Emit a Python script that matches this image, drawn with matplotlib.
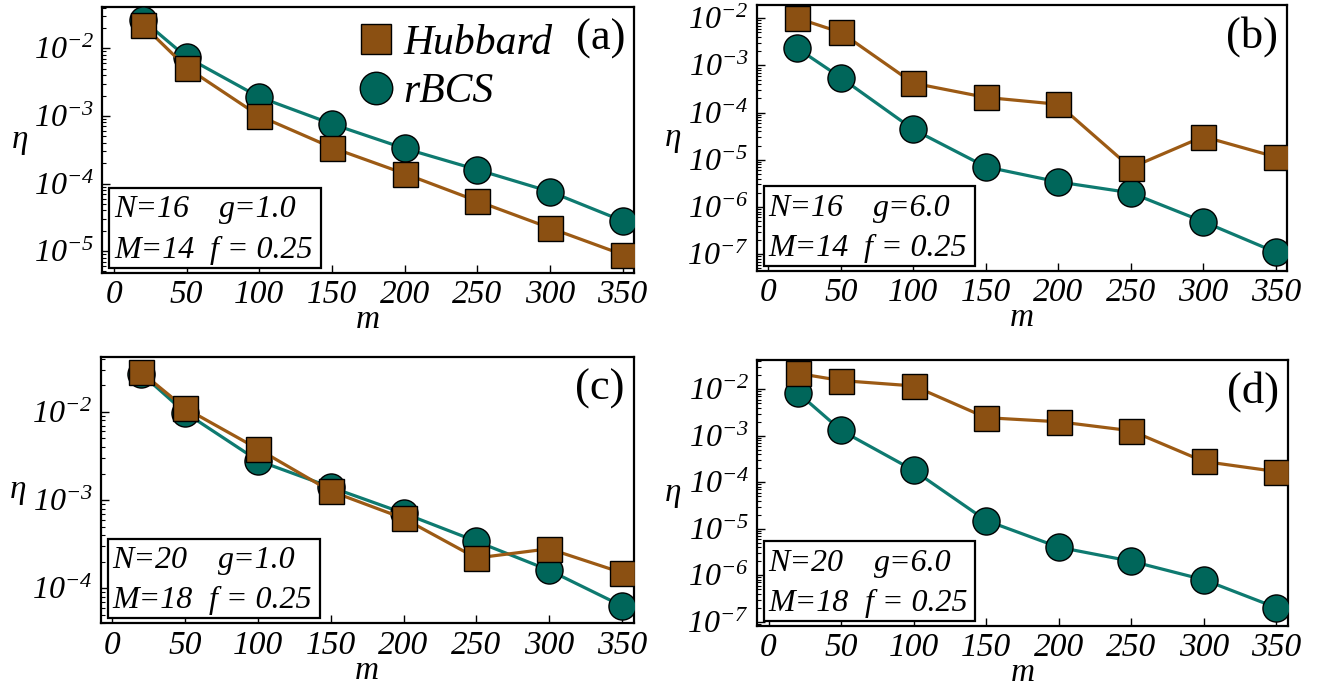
import numpy as np
import matplotlib
matplotlib.use('Agg')
import matplotlib.pyplot as plt
from matplotlib.patches import Rectangle
from matplotlib.ticker import LogLocator, FuncFormatter, NullFormatter

plt.rcParams['font.family'] = ['Liberation Serif', 'DejaVu Serif']
plt.rcParams['font.style'] = 'italic'
plt.rcParams['mathtext.fontset'] = 'custom'
plt.rcParams['mathtext.rm'] = 'Liberation Serif:italic'
plt.rcParams['mathtext.it'] = 'Liberation Serif:italic'
plt.rcParams['mathtext.default'] = 'it'

# ---- data ----
m = [20, 50, 100, 150, 200, 250, 300, 350]

hub_a  = [2.2e-2, 5.2e-3, 1.0e-3, 3.4e-4, 1.4e-4, 5.5e-5, 2.2e-5, 8.9e-6]
rbcs_a = [2.6e-2, 7.4e-3, 1.9e-3, 7.6e-4, 3.3e-4, 1.6e-4, 7.6e-5, 2.8e-5]

hub_b  = [1.0e-2, 5.0e-3, 4.2e-4, 2.1e-4, 1.5e-4, 6.8e-6, 3.1e-5, 1.15e-5]
rbcs_b = [2.3e-3, 5.5e-4, 4.4e-5, 7.1e-6, 3.4e-6, 2.0e-6, 4.9e-7, 1.1e-7]

hub_c  = [2.8e-2, 1.1e-2, 3.8e-3, 1.26e-3, 6.2e-4, 2.2e-4, 2.8e-4, 1.5e-4]
rbcs_c = [2.7e-2, 9.8e-3, 2.8e-3, 1.4e-3, 7.1e-4, 3.4e-4, 1.6e-4, 6.3e-5]

hub_d  = [2.2e-2, 1.54e-2, 1.18e-2, 2.45e-3, 2.0e-3, 1.28e-3, 2.8e-4, 1.7e-4]
rbcs_d = [8.5e-3, 1.3e-3, 1.8e-4, 1.5e-5, 4.0e-6, 2.0e-6, 8.0e-7, 2.0e-7]

params = [("N=16", "g=1.0", "M=14", "f = 0.25"),
          ("N=16", "g=6.0", "M=14", "f = 0.25"),
          ("N=20", "g=1.0", "M=18", "f = 0.25"),
          ("N=20", "g=6.0", "M=18", "f = 0.25")]
tags = ["(a)", "(b)", "(c)", "(d)"]
ylims = [(4.8e-6, 4.13e-2), (4.4e-8, 1.9e-2), (4.0e-5, 4.2e-2), (8.1e-8, 4.27e-2)]
xticks = [0, 50, 100, 150, 200, 250, 300, 350]

hub_fill, hub_line = '#8B5012', '#9C5A14'
bcs_fill, bcs_line = '#00665A', '#0E7A70'

fig = plt.figure(figsize=(13.22, 6.9), dpi=100)
rects = [[0.0774, 0.6048, 0.4024, 0.3855],
         [0.5724, 0.6072, 0.4014, 0.3855],
         [0.0762, 0.0967, 0.4030, 0.3860],
         [0.5726, 0.0928, 0.4017, 0.3855]]
series = [(hub_a, rbcs_a), (hub_b, rbcs_b), (hub_c, rbcs_c), (hub_d, rbcs_d)]

def pow_fmt(v, pos):
    e = int(round(np.log10(v)))
    return r'$10^{%d}$' % e

for i, (rect, (hub, bcs)) in enumerate(zip(rects, series)):
    ax = fig.add_axes(rect)
    ax.set_yscale('log')
    lb, = ax.plot(m, bcs, '-o', color=bcs_line, lw=2.3, ms=19.5, mfc=bcs_fill,
                  mec='black', mew=1.0, label='rBCS', zorder=3)
    lh, = ax.plot(m, hub, '-s', color=hub_line, lw=2.3, ms=18, mfc=hub_fill,
                  mec='black', mew=1.0, label='Hubbard', zorder=4)
    ax.set_xlim(-8, 358)
    ax.set_ylim(*ylims[i])
    ax.set_xticks(xticks)
    ax.set_xticklabels([str(t) for t in xticks], fontstyle='italic',
                       family='Liberation Serif')
    ax.yaxis.set_major_locator(LogLocator(base=10, numticks=30))
    ax.yaxis.set_minor_locator(LogLocator(base=10, subs=np.arange(2, 10), numticks=30))
    ax.yaxis.set_major_formatter(FuncFormatter(pow_fmt))
    ax.yaxis.set_minor_formatter(NullFormatter())
    ax.tick_params(axis='both', which='both', direction='in', top=False, right=False)
    ax.tick_params(axis='x', which='major', labelsize=24, length=6, width=1.0, pad=5)
    ax.tick_params(axis='y', which='major', labelsize=23, length=6, width=1.0, pad=6)
    ax.tick_params(axis='y', which='minor', length=3, width=0.8)
    for sp in ax.spines.values():
        sp.set_linewidth(1.6)
    ax.set_xlabel('m', fontsize=24, labelpad=-4)
    ax.set_ylabel('η', fontsize=24, rotation=0, labelpad=10, va='center')

    ax.text(0.983, 0.88, tags[i], transform=ax.transAxes, ha='right', va='center',
            fontsize=32, style='normal', zorder=6)

    # parameter box
    ax.add_patch(Rectangle((0.013, 0.018), 0.398, 0.30, transform=ax.transAxes,
                           fc='white', ec='black', lw=1.6, zorder=5))
    p = params[i]
    kw = dict(transform=ax.transAxes, fontsize=23, va='center', ha='left', zorder=6)
    ax.text(0.022, 0.236, p[0], **kw)
    ax.text(0.220, 0.236, p[1], **kw)
    ax.text(0.022, 0.085, p[2], **kw)
    ax.text(0.203, 0.085, p[3], **kw)

    if i == 0:
        ax.legend(handles=[lh, lb], loc='upper left', bbox_to_anchor=(0.452, 1.06),
                  frameon=False, fontsize=30, handlelength=0.0, handletextpad=0.65,
                  markerscale=1.2, labelspacing=0.25, borderpad=0.3)

fig.savefig('out.png', dpi=100)
